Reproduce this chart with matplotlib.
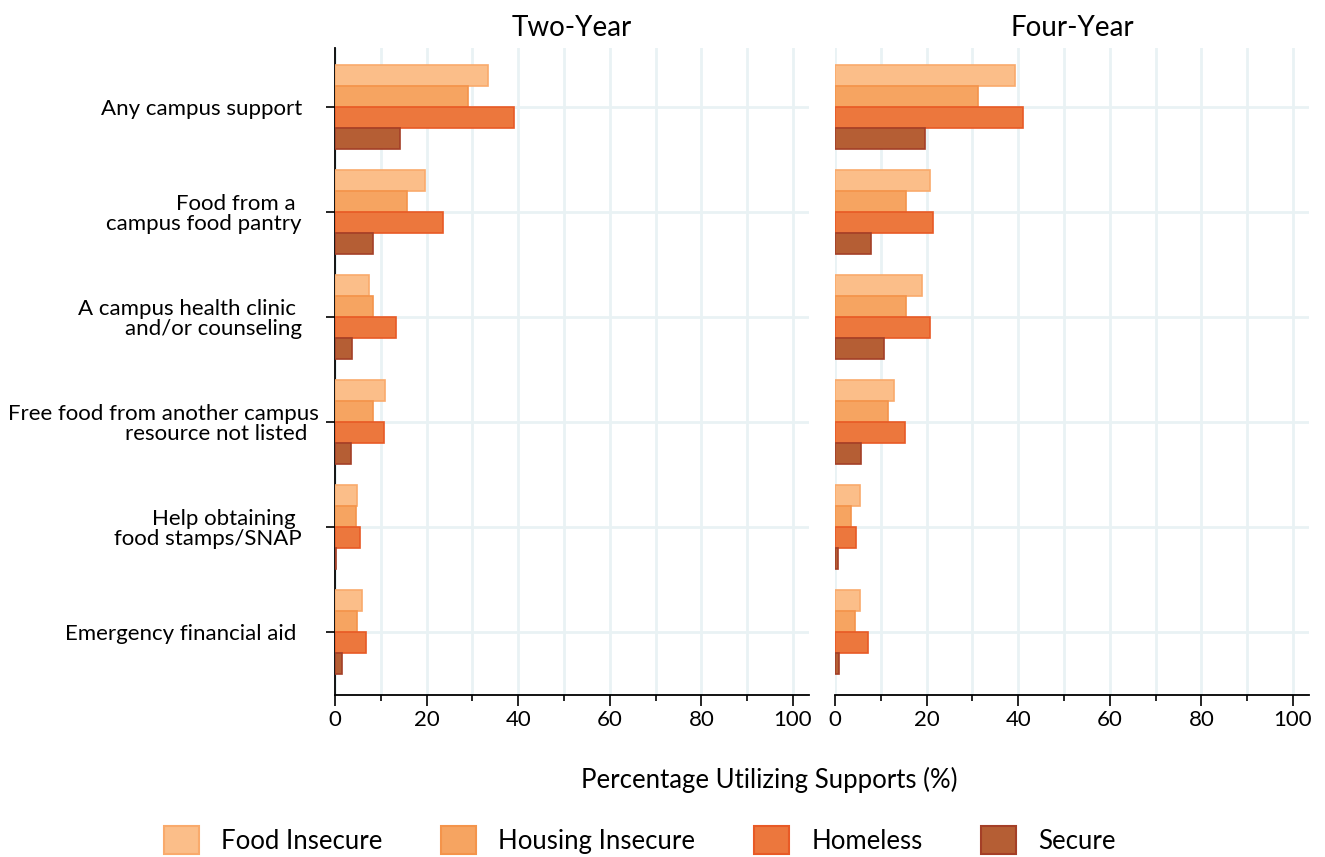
import matplotlib
matplotlib.use("Agg")
import matplotlib.pyplot as plt
from matplotlib.patches import Patch
from matplotlib.ticker import MultipleLocator
import numpy as np

categories = [
    "Any campus support   ",
    "Food from a    \ncampus food pantry   ",
    "A campus health clinic    \nand/or counseling   ",
    "Free food from another campus\nresource not listed  ",
    "Help obtaining    \nfood stamps/SNAP   ",
    "Emergency financial aid    ",
]
series = ["Food Insecure", "Housing Insecure", "Homeless", "Secure"]
panels = ["Two-Year", "Four-Year"]

two_year = {
    "Food Insecure":    [33.3, 19.6, 7.5, 11.0, 4.9, 5.8],
    "Housing Insecure": [29.1, 15.7, 8.2, 8.4, 4.5, 4.7],
    "Homeless":         [39.1, 23.5, 13.4, 10.8, 5.4, 6.7],
    "Secure":           [14.3, 8.3, 3.8, 3.4, 0.3, 1.5],
}
four_year = {
    "Food Insecure":    [39.4, 20.7, 19.1, 12.8, 5.4, 5.4],
    "Housing Insecure": [31.3, 15.4, 15.4, 11.5, 3.4, 4.3],
    "Homeless":         [41.1, 21.5, 20.7, 15.2, 4.5, 7.1],
    "Secure":           [19.6, 7.9, 10.8, 5.6, 0.6, 0.8],
}
data = [two_year, four_year]

fills = ["#fbbe89", "#f6a461", "#ec773d", "#b55e34"]
edges = ["#f9aa6c", "#f4944b", "#e85a26", "#a43f27"]

plt.rcParams["font.family"] = ["Lato", "DejaVu Sans"]

fig = plt.figure(figsize=(13.25, 8.57), dpi=100)
W, H = 1325, 857
bottom = 1 - 695 / H
height = (695 - 48) / H
axw = 474 / W
axes = [fig.add_axes([335 / W, bottom, axw, height]),
        fig.add_axes([835 / W, bottom, axw, height])]

grid_c = "#e9f2f4"
y = np.arange(len(categories))
bh = 0.2
for k, ax in enumerate(axes):
    d = data[k]
    for i, s in enumerate(series):
        ax.barh(y + (i - 1.5) * bh, d[s], height=bh, color=fills[i],
                edgecolor=edges[i], linewidth=1.2, zorder=3, label=s)
    ax.set_xlim(0, 103.5)
    ax.set_ylim(5.6, -0.56)
    ax.xaxis.set_major_locator(MultipleLocator(20))
    ax.xaxis.set_minor_locator(MultipleLocator(10))
    ax.set_yticks(y)
    ax.grid(True, which="both", axis="x", color=grid_c, linewidth=2, zorder=0)
    ax.grid(True, which="major", axis="y", color=grid_c, linewidth=2, zorder=0)
    ax.set_axisbelow(True)
    for sp in ["top", "right"]:
        ax.spines[sp].set_visible(False)
    ax.spines["bottom"].set_linewidth(1.3)
    ax.tick_params(axis="x", which="major", length=8, width=1.2, labelsize=16, pad=3)
    ax.tick_params(axis="x", which="minor", length=4, width=1.2)
    ax.set_title(panels[k], fontsize=20, pad=9)
    if k == 0:
        ax.set_yticklabels(categories, fontsize=16, multialignment="right",
                           linespacing=1.0)
        ax.spines["left"].set_linewidth(1.3)
        ax.tick_params(axis="y", length=6.5, width=1.2, pad=5)
    else:
        ax.spines["left"].set_visible(False)
        ax.tick_params(axis="y", length=0, labelleft=False)

fig.text(769 / W, 1 - 780 / H, "Percentage Utilizing Supports (%)",
         ha="center", va="center", fontsize=18.5)

handles = [Patch(facecolor=fills[i], edgecolor=edges[i], linewidth=1.5) for i in range(4)]
fig.legend(handles, series, loc="center", bbox_to_anchor=(640 / W, 1 - 840 / H),
           ncol=4, frameon=False, fontsize=18.5, handlelength=1.36, handleheight=1.28,
           columnspacing=2.3, handletextpad=0.85)

fig.savefig("out.png", dpi=100)
